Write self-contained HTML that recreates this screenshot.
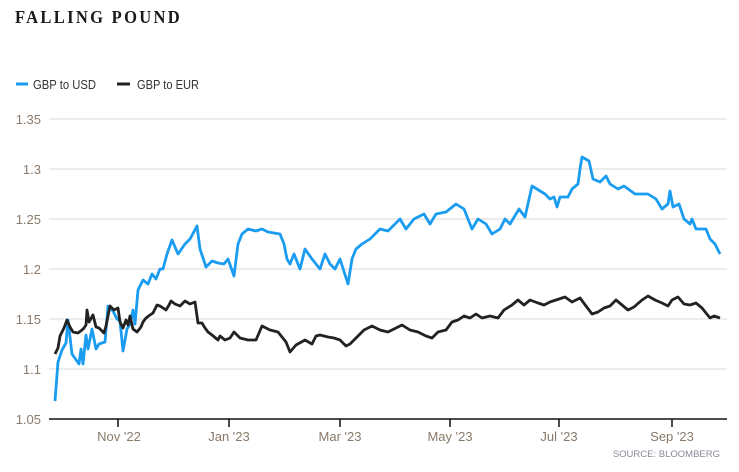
<!DOCTYPE html>
<html><head><meta charset="utf-8"><style>
body{margin:0;background:#fff;width:739px;height:467px;overflow:hidden}
</style></head><body>
<svg width="739" height="467" xmlns="http://www.w3.org/2000/svg" font-family="Liberation Sans, sans-serif">
<text x="15" y="23" font-family="Liberation Serif, serif" font-weight="bold" font-size="18" letter-spacing="2.5" textLength="167" lengthAdjust="spacingAndGlyphs" fill="#1a1a1a">FALLING POUND</text>
<line x1="16" y1="84" x2="28" y2="84" stroke="#1a9cf0" stroke-width="3"/>
<text x="33" y="89" font-size="13" fill="#333" textLength="63" lengthAdjust="spacingAndGlyphs">GBP to USD</text>
<line x1="117" y1="84" x2="130" y2="84" stroke="#222" stroke-width="3"/>
<text x="137" y="89" font-size="13" fill="#333" textLength="62" lengthAdjust="spacingAndGlyphs">GBP to EUR</text>
<g stroke="#d8d8d8" stroke-width="1">
<line x1="49" y1="119" x2="727" y2="119"/><line x1="49" y1="169" x2="727" y2="169"/>
<line x1="49" y1="219" x2="727" y2="219"/><line x1="49" y1="269" x2="727" y2="269"/>
<line x1="49" y1="319" x2="727" y2="319"/><line x1="49" y1="369" x2="727" y2="369"/>
</g>
<g font-size="13" fill="#8a7a6a" text-anchor="end">
<text x="41" y="124">1.35</text><text x="41" y="174">1.3</text><text x="41" y="224">1.25</text>
<text x="41" y="274">1.2</text><text x="41" y="324">1.15</text><text x="41" y="374">1.1</text><text x="41" y="424">1.05</text>
</g>
<line x1="49" y1="419" x2="727" y2="419" stroke="#111" stroke-width="1.5"/>
<g stroke="#111" stroke-width="1.5">
<line x1="118" y1="419" x2="118" y2="427"/><line x1="229" y1="419" x2="229" y2="427"/>
<line x1="340" y1="419" x2="340" y2="427"/><line x1="450" y1="419" x2="450" y2="427"/>
<line x1="559" y1="419" x2="559" y2="427"/><line x1="672" y1="419" x2="672" y2="427"/>
</g>
<g font-size="13" fill="#8a7a6a" text-anchor="middle">
<text x="119" y="441">Nov '22</text><text x="229" y="441">Jan '23</text><text x="340" y="441">Mar '23</text>
<text x="450" y="441">May '23</text><text x="559" y="441">Jul '23</text><text x="672" y="441">Sep '23</text>
</g>
<text x="720" y="457" font-size="9.5" fill="#8a8a9a" text-anchor="end">SOURCE: BLOOMBERG</text>
<polyline fill="none" stroke="#1a9cf0" stroke-width="2.8" stroke-linejoin="round" points="55,401 58,362 62,350 66,343 68,320 72,354 79,364 81,349 83,364 86,335 88,349 92,329 96,349 99,344 105,342 108,306 113,311 117,319 120,321 123,351 127,329 130,324 133,310 135,324 138,290 143,280 148,284 152,274 156,279 160,269 163,269 167,254 172,240 178,254 185,244 190,239 197,226 200,249 206,267 212,261 218,263 224,264 228,259 234,276 238,244 242,234 248,229 256,231 262,229 268,232 280,234 284,244 287,259 290,264 294,254 300,269 305,249 312,259 320,269 325,254 330,264 335,269 340,259 348,284 352,259 356,249 362,244 370,239 380,229 388,231 400,219 406,229 414,219 424,214 430,224 436,214 446,212 456,204 464,209 472,229 478,219 486,224 492,234 500,229 505,219 510,224 519,209 525,217 532,186 545,194 550,199 554,197 557,207 560,197 568,197 572,189 578,184 580,169 582,157 589,161 593,179 600,182 606,176 610,184 618,189 624,186 635,194 648,194 656,199 662,209 668,204 670,191 673,207 679,204 684,219 690,224 692,219 696,229 706,229 710,239 715,244 720,254"/>
<polyline fill="none" stroke="#222" stroke-width="2.8" stroke-linejoin="round" points="55,354 58,348 60,336 64,328 67,320 70,327 73,332 78,333 82,330 84,328 86,325 87,310 89,322 93,315 96,327 99,328 104,333 106,326 110,306 114,310 118,308 120,322 123,328 126,320 128,325 130,316 133,329 137,332 141,327 143,322 146,318 150,315 153,313 157,305 160,306 166,310 169,305 171,301 175,304 180,306 185,301 190,304 195,302 198,323 202,323 205,328 208,332 212,335 218,340 220,336 225,340 230,338 234,332 240,338 248,340 256,340 262,326 270,330 278,332 286,342 290,352 296,345 305,340 312,344 316,336 320,335 328,337 334,338 340,340 346,346 350,344 356,338 364,330 372,326 380,330 388,332 396,328 402,325 410,330 418,332 426,336 432,338 438,332 446,330 452,322 458,320 464,316 470,318 476,314 482,318 490,316 498,318 504,310 512,305 518,300 524,305 530,300 538,303 544,305 550,302 556,300 565,297 572,302 580,298 586,306 592,314 598,312 604,308 610,306 616,300 622,305 628,310 634,307 642,300 648,296 655,300 662,303 668,306 672,300 678,297 684,304 690,305 696,303 702,308 706,313 710,318 714,316 720,318"/>
</svg>
</body></html>
